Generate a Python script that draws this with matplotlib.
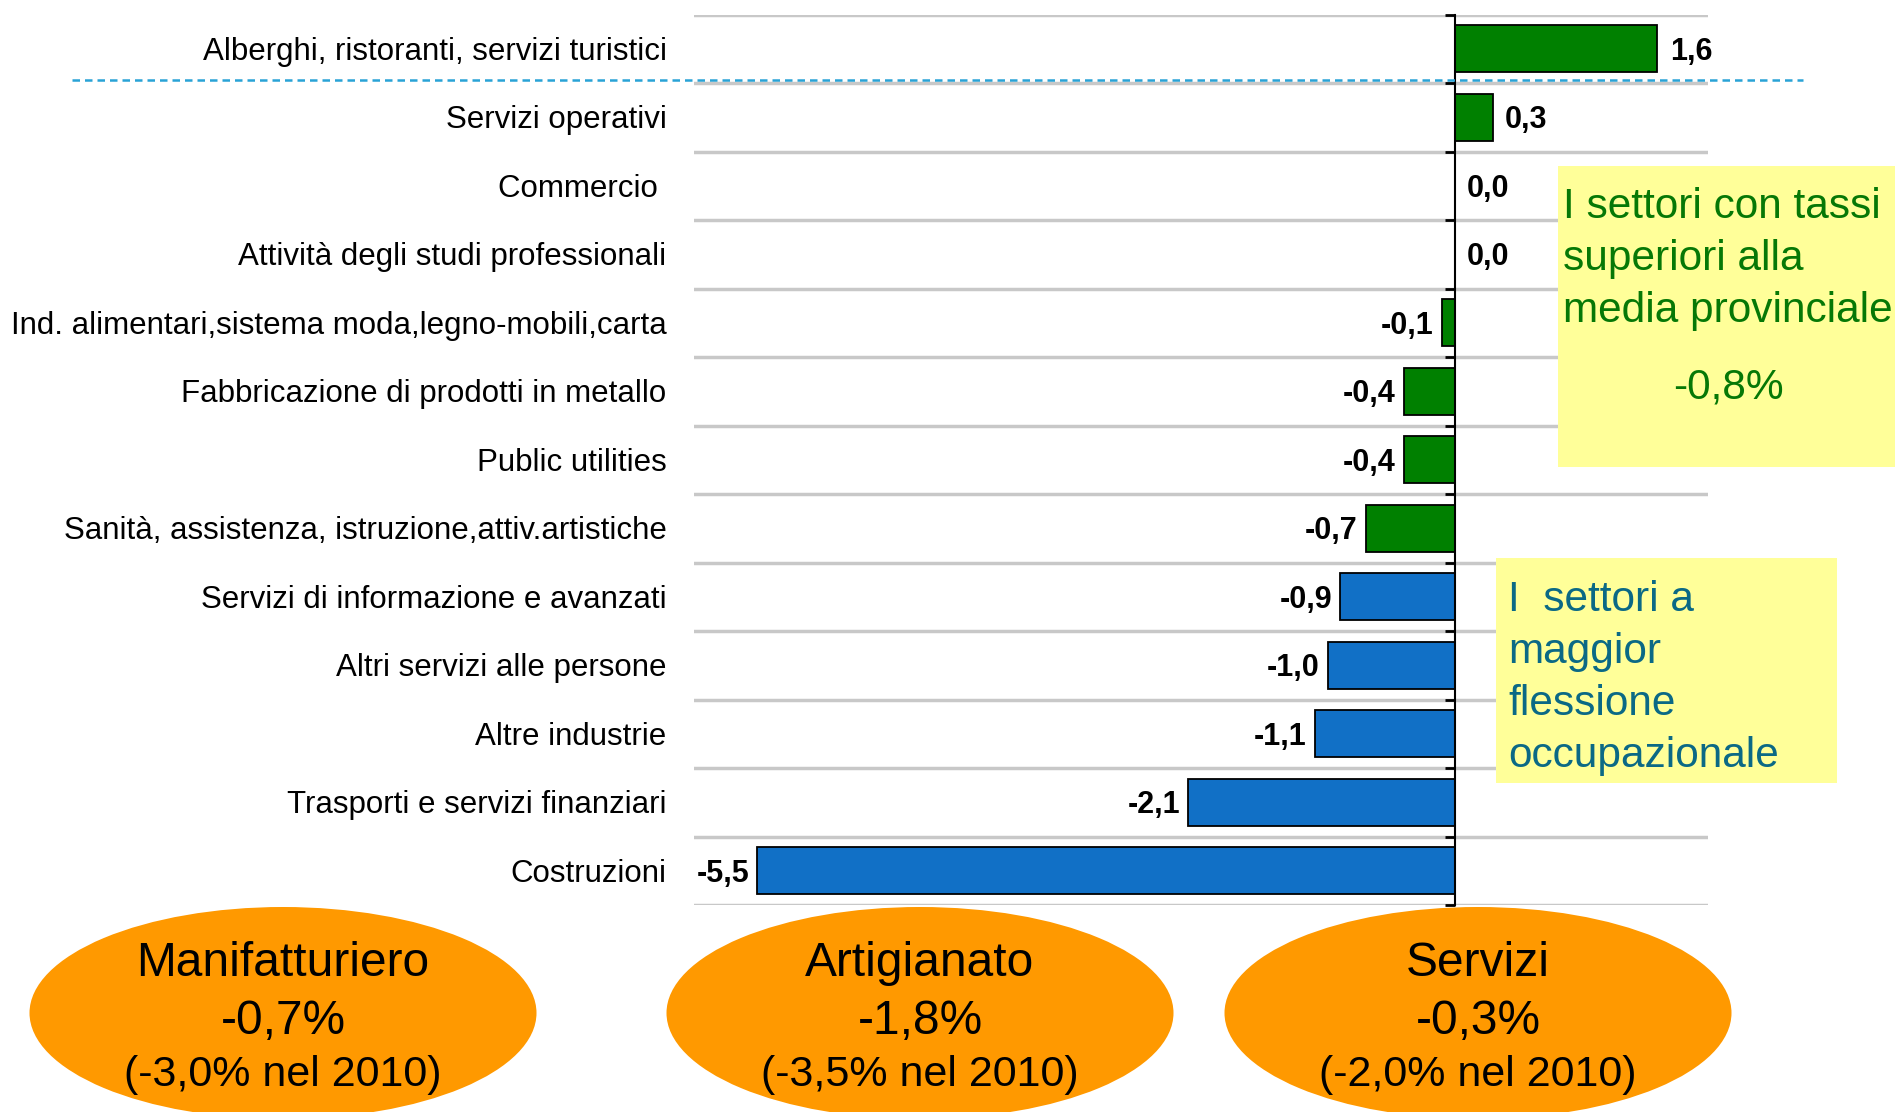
import matplotlib
matplotlib.use("Agg")
import matplotlib.pyplot as plt
from matplotlib.patches import Ellipse, Rectangle
from matplotlib.transforms import offset_copy
import numpy as np

plt.rcParams['font.family'] = ['Liberation Sans', 'DejaVu Sans']

categories = [
    "Alberghi, ristoranti, servizi turistici",
    "Servizi operativi",
    "Commercio ",
    "Attività degli studi professionali",
    "Ind. alimentari,sistema moda,legno-mobili,carta",
    "Fabbricazione di prodotti in metallo",
    "Public utilities",
    "Sanità, assistenza, istruzione,attiv.artistiche",
    "Servizi di informazione e avanzati",
    "Altri servizi alle persone",
    "Altre industrie",
    "Trasporti e servizi finanziari",
    "Costruzioni",
]
values = [1.6, 0.3, 0.0, 0.0, -0.1, -0.4, -0.4, -0.7, -0.9, -1.0, -1.1, -2.1, -5.5]
above_avg = [True] * 8 + [False] * 5

box1_lines = ["I settori con tassi", "superiori alla", "media provinciale"]
box1_value = "-0,8%"
box2_lines = ["I  settori a", "maggior", "flessione", "occupazionale"]

sectors = ["Manifatturiero", "Artigianato", "Servizi"]
sector_2011 = ["-0,7%", "-1,8%", "-0,3%"]
sector_2010 = ["(-3,0% nel 2010)", "(-3,5% nel 2010)", "(-2,0% nel 2010)"]

GREEN = "#008000"
BLUE = "#1170C6"
W, H = 1895, 1112

fig = plt.figure(figsize=(W / 100, H / 100), dpi=100)
ax = fig.add_axes([694 / W, 1 - 905 / H, (1708 - 694) / W, (905 - 14.5) / H])
n = len(categories)
ax.set_xlim(-6, 2)
ax.set_ylim(n - 0.5, -0.5)
for s in ["top", "right", "bottom"]:
    ax.spines[s].set_visible(False)
ax.spines["left"].set_position(("data", 0))
ax.spines["left"].set_linewidth(1.5)
ax.spines["left"].set_zorder(4)
ax.set_xticks([])
ax.set_yticks(np.arange(-0.5, n, 1.0))
ax.set_yticklabels([])
ax.tick_params(axis="y", length=7, width=2, direction="out", color="black")

for b in np.arange(-0.5, n, 1.0):
    ax.axhline(b, color="#c8c8c8", lw=2.5, zorder=1)

ypos = np.arange(n)
colors = [GREEN if a else BLUE for a in above_avg]
ax.barh(ypos, values, height=0.68, color=colors, edgecolor="black", linewidth=1.3, zorder=3)

label_tr = offset_copy(ax.get_yaxis_transform(), fig=fig, x=0, y=-2, units="points")
for y, v, c in zip(ypos, values, categories):
    lab = f"{v:.1f}".replace(".", ",")
    if v >= 0:
        ax.annotate(lab, (v, y), xytext=(9, -2), textcoords="offset points",
                    ha="left", va="center", fontsize=22, fontweight="bold")
    else:
        ax.annotate(lab, (v, y), xytext=(-6, -2), textcoords="offset points",
                    ha="right", va="center", fontsize=22, fontweight="bold")
    ax.text(-0.027, y, c, transform=label_tr, ha="right", va="center", fontsize=22.5)

# overlay in pixel coordinates
ov = fig.add_axes([0, 0, 1, 1], zorder=5)
ov.set_xlim(0, W)
ov.set_ylim(H, 0)
ov.axis("off")
ov.patch.set_alpha(0)

ov.plot([72, 1803], [80, 80], color="#29A3D6", lw=1.8, ls=(0, (3, 2)))

ov.add_patch(Rectangle((1558, 166), 340, 301, facecolor="#FFFF99", edgecolor="none"))
for i, t in enumerate(box1_lines):
    ov.text(1563, 207 + 52 * i, t, color="#067806", fontsize=30.5, ha="left", va="center")
ov.text(1728, 388, box1_value, color="#067806", fontsize=30.5, ha="center", va="center")

ov.add_patch(Rectangle((1496, 558), 341, 225, facecolor="#FFFF99", edgecolor="none"))
for i, t in enumerate(box2_lines):
    ov.text(1508, 600 + 52 * i, t, color="#0B6985", fontsize=30.5, ha="left", va="center")

centers = [283, 920, 1478]
for cx, s, a, b in zip(centers, sectors, sector_2011, sector_2010):
    ov.add_patch(Ellipse((cx, 1013), 507, 212, facecolor="#FF9900", edgecolor="none"))
    ov.text(cx, 964, s, fontsize=34.5, ha="center", va="center")
    ov.text(cx, 1022, a, fontsize=34.5, ha="center", va="center")
    ov.text(cx, 1075, b, fontsize=31, ha="center", va="center")

fig.savefig("out.png", dpi=100)
